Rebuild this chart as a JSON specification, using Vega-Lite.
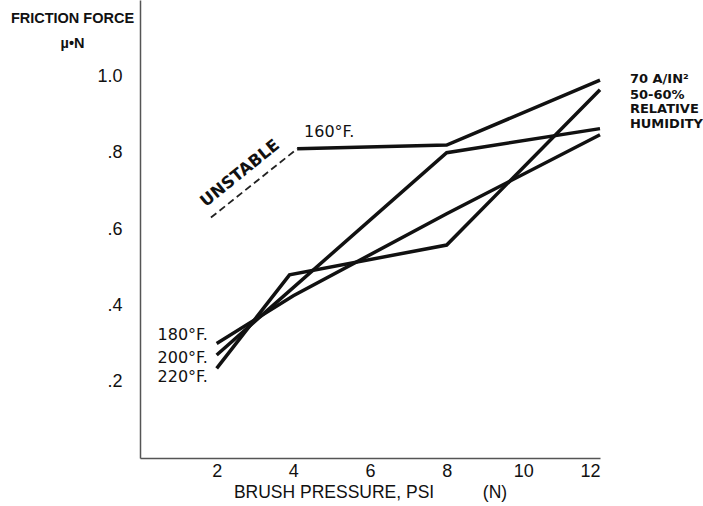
{
  "$schema": "https://vega.github.io/schema/vega-lite/v6.json",
  "autosize": "none",
  "width": 460,
  "height": 458,
  "padding": {"left": 140, "top": 0, "right": 103, "bottom": 48},
  "background": "white",
  "config": {
    "view": {"stroke": null},
    "font": "Liberation Sans",
    "axis": {"grid": false, "ticks": false, "domainColor": "#555", "domainWidth": 1.5, "labelColor": "#111", "titleColor": "#111", "labelFont": "Liberation Sans", "titleFont": "Liberation Sans"}
  },
  "datasets": {
    "curves": [
      {"series": "160", "p": 4.1, "f": 0.81},
      {"series": "160", "p": 8, "f": 0.82},
      {"series": "160", "p": 12, "f": 0.99},
      {"series": "180", "p": 2, "f": 0.30},
      {"series": "180", "p": 4, "f": 0.425},
      {"series": "180", "p": 8, "f": 0.64},
      {"series": "180", "p": 12, "f": 0.847},
      {"series": "200", "p": 2, "f": 0.27},
      {"series": "200", "p": 8, "f": 0.80},
      {"series": "200", "p": 12, "f": 0.863},
      {"series": "220", "p": 2, "f": 0.235},
      {"series": "220", "p": 3.9, "f": 0.48},
      {"series": "220", "p": 8, "f": 0.558},
      {"series": "220", "p": 12, "f": 0.965}
    ],
    "unstable": [
      {"p": 1.85, "f": 0.63},
      {"p": 4.1, "f": 0.81}
    ],
    "tempLabels": [
      {"label": "180°F.", "p": 1.77, "f": 0.321},
      {"label": "200°F.", "p": 1.77, "f": 0.263},
      {"label": "220°F.", "p": 1.77, "f": 0.211}
    ],
    "topLabel": [
      {"label": "160°F.", "p": 4.28, "f": 0.853}
    ],
    "unstableLabel": [
      {"label": "UNSTABLE", "p": 2.61, "f": 0.746}
    ],
    "note": [
      {"label": "70 A/IN²", "p": 12.78, "f": 0.993},
      {"label": "50-60%", "p": 12.78, "f": 0.952},
      {"label": "RELATIVE", "p": 12.78, "f": 0.915},
      {"label": "HUMIDITY", "p": 12.78, "f": 0.876}
    ]
  },
  "layer": [
    {
      "data": {"name": "curves"},
      "mark": {"type": "line", "color": "#111", "strokeWidth": 3.5, "strokeJoin": "miter", "clip": false},
      "encoding": {
        "x": {"field": "p", "type": "quantitative", "scale": {"domain": [0, 12], "nice": false, "zero": false},
          "axis": {"values": [2, 4, 6, 8, 10, 12], "labelFontSize": 18, "labelPadding": 4,
            "title": "BRUSH PRESSURE, PSI\u00a0\u00a0\u00a0\u00a0\u00a0\u00a0\u00a0\u00a0\u00a0\u00a0(N)", "titleFontSize": 17.5, "titleFontWeight": "normal", "titlePadding": 3}},
        "y": {"field": "f", "type": "quantitative", "scale": {"domain": [0, 1.2], "nice": false, "zero": false},
          "axis": {"values": [0.2, 0.4, 0.6, 0.8, 1.0], "labelFontSize": 18, "labelPadding": 18,
            "labelExpr": "datum.value >= 0.99 ? '1.0' : replace(format(datum.value, '.1f'), '0.', '.')",
            "title": ["FRICTION FORCE", "µ•N"], "titleAngle": 0, "titleX": -68, "titleY": 11,
            "titleAlign": "center", "titleBaseline": "top", "titleFontSize": 14.5, "titleFontWeight": "bold", "titleLineHeight": 25}},
        "detail": {"field": "series", "type": "nominal"}
      }
    },
    {
      "data": {"name": "unstable"},
      "mark": {"type": "line", "color": "#222", "strokeWidth": 1.8, "strokeDash": [7, 4]},
      "encoding": {
        "x": {"field": "p", "type": "quantitative"},
        "y": {"field": "f", "type": "quantitative"}
      }
    },
    {
      "data": {"name": "tempLabels"},
      "mark": {"type": "text", "align": "right", "baseline": "middle", "font": "DejaVu Sans", "fontSize": 16, "color": "#111"},
      "encoding": {
        "x": {"field": "p", "type": "quantitative"},
        "y": {"field": "f", "type": "quantitative"},
        "text": {"field": "label"}
      }
    },
    {
      "data": {"name": "topLabel"},
      "mark": {"type": "text", "align": "left", "baseline": "middle", "font": "DejaVu Sans", "fontSize": 16, "color": "#111"},
      "encoding": {
        "x": {"field": "p", "type": "quantitative"},
        "y": {"field": "f", "type": "quantitative"},
        "text": {"field": "label"}
      }
    },
    {
      "data": {"name": "unstableLabel"},
      "mark": {"type": "text", "align": "center", "baseline": "middle", "font": "DejaVu Sans", "fontWeight": "bold", "fontSize": 16.5, "angle": 321, "color": "#111"},
      "encoding": {
        "x": {"field": "p", "type": "quantitative"},
        "y": {"field": "f", "type": "quantitative"},
        "text": {"field": "label"}
      }
    },
    {
      "data": {"name": "note"},
      "mark": {"type": "text", "align": "left", "baseline": "middle", "font": "DejaVu Sans", "fontSize": 13, "fontWeight": "bold", "color": "#111", "clip": false},
      "encoding": {
        "x": {"field": "p", "type": "quantitative"},
        "y": {"field": "f", "type": "quantitative"},
        "text": {"field": "label"}
      }
    }
  ]
}
